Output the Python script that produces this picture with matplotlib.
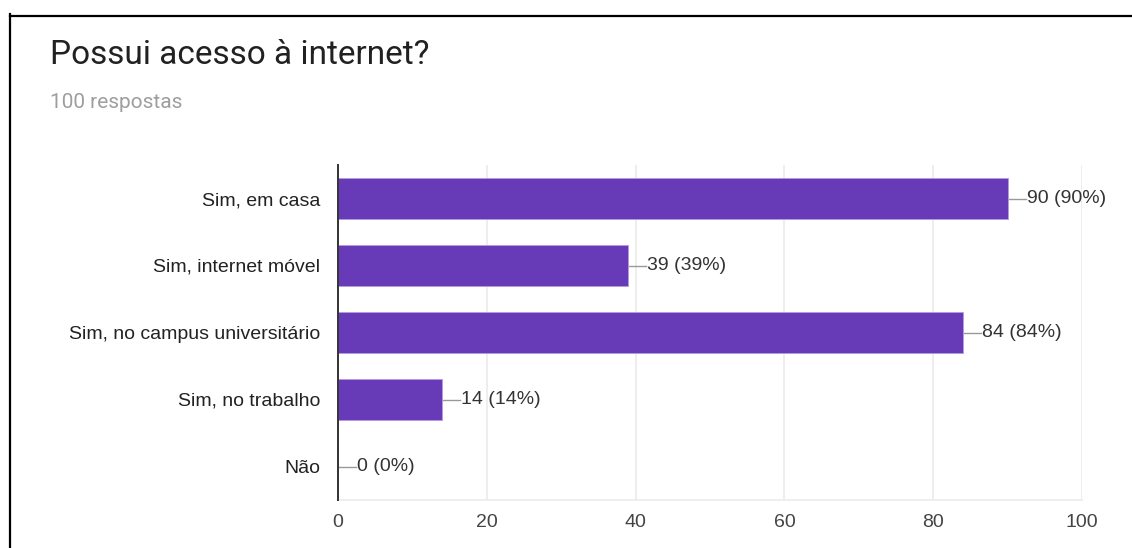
import numpy as np
import matplotlib.pyplot as plt
from matplotlib.lines import Line2D

categorias = ['Sim, em casa', 'Sim, internet móvel', 'Sim, no campus universitário',
              'Sim, no trabalho', 'Não']
respostas = [90, 39, 84, 14, 0]
total = 100
x_ticks = [0, 20, 40, 60, 80, 100]

W, H = 1132, 548
fig = plt.figure(figsize=(W / 100, H / 100), dpi=100)
fig.patch.set_facecolor('white')

# moldura preta (recorte da tela)
fig.add_artist(Line2D([10 / W, 10 / W], [0, 1 - 14 / H], color='black', lw=1.6))
fig.add_artist(Line2D([10 / W, 1], [1 - 16 / H, 1 - 16 / H], color='black', lw=1.6))

# titulo e subtitulo
fig.text(50 / W, 1 - 55 / H, 'Possui acesso à internet?', family='Roboto',
         fontsize=24, color='#212121', va='center', ha='left')
fig.text(50 / W, 1 - 102 / H, f'{total} respostas', family='Roboto',
         fontsize=15, color='#9e9e9e', va='center', ha='left')

# eixo
ax = fig.add_axes([338 / W, 1 - 500 / H, (1082 - 338) / W, (500 - 165) / H])
y = np.arange(len(categorias))
ax.barh(y, respostas, height=0.6, color='#673ab7', edgecolor='#b39ddb', linewidth=0.6, zorder=3)
ax.set_xlim(0, 100)
ax.set_ylim(len(categorias) - 0.5, -0.5)
ax.set_yticks(y)
ax.set_yticklabels(categorias, family='Liberation Sans', fontsize=14, color='#222222')
ax.set_xticks(x_ticks)
ax.set_xticklabels([str(t) for t in x_ticks], family='Liberation Sans', fontsize=14, color='#444444')
ax.tick_params(axis='both', length=0)
ax.tick_params(axis='y', pad=13)
ax.tick_params(axis='x', pad=10)
ax.grid(axis='x', color='#ebebeb', linewidth=1.2, zorder=0)
for s in ['top', 'right']:
    ax.spines[s].set_visible(False)
ax.spines['bottom'].set_color('#ebebeb')
ax.spines['bottom'].set_linewidth(1.2)
ax.spines['left'].set_color('#333333')
ax.spines['left'].set_linewidth(1.4)
ax.spines['left'].set_zorder(5)

# rotulos com linha de ligacao
px = 100 / (1082 - 338)
for yi, v in zip(y, respostas):
    ax.plot([v + 1 * px, v + 18 * px], [yi, yi], color='#999999', lw=1, zorder=4, clip_on=False)
    ax.text(v + 19 * px, yi, f'{v} ({round(v / total * 100)}%)', family='Liberation Sans',
            fontsize=14, color='#333333', va='center', ha='left', zorder=4)

plt.savefig('out.png', dpi=100)
